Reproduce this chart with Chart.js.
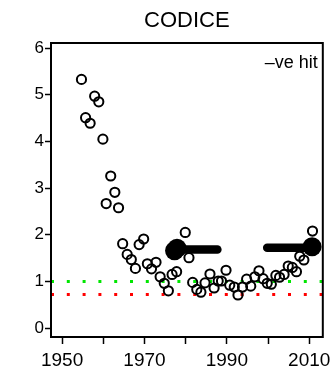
<!DOCTYPE html>
<html>
<head>
<meta charset="utf-8">
<script src="https://cdn.jsdelivr.net/npm/chart.js@4/dist/chart.umd.min.js"></script>
<style>
  html, body { margin: 0; padding: 0; background: #fff; }
  canvas { display: block; }
</style>
</head>
<body>
<canvas id="codiceChart" width="336" height="375"></canvas>
<script>
// yearly -ve hit ratios
var years = [1954.7, 1955.7, 1956.8, 1957.9, 1958.9, 1959.9, 1960.7, 1961.8, 1962.8, 1963.7,
  1964.7, 1965.8, 1966.8, 1967.8, 1968.7, 1969.8, 1970.7, 1971.7, 1972.8, 1973.8,
  1974.8, 1975.8, 1976.7, 1977.8, 1979.9, 1980.8, 1981.7, 1982.7, 1983.7, 1984.7,
  1985.9, 1986.9, 1987.9, 1988.7, 1989.8, 1990.7, 1991.8, 1992.7, 1993.8, 1994.8,
  1995.8, 1996.8, 1997.8, 1998.8, 1999.8, 2000.8, 2001.9, 2002.8, 2003.9, 2004.9,
  2005.9, 2006.9, 2007.7, 2008.7, 2010.8];
var hits = [5.33, 4.51, 4.39, 4.97, 4.85, 4.05, 2.67, 3.26, 2.91, 2.58,
  1.81, 1.58, 1.47, 1.28, 1.79, 1.91, 1.38, 1.27, 1.41, 1.10,
  0.96, 0.80, 1.15, 1.21, 2.05, 1.51, 0.98, 0.83, 0.77, 0.97,
  1.16, 0.86, 1.01, 1.01, 1.24, 0.92, 0.88, 0.71, 0.88, 1.05,
  0.90, 1.10, 1.23, 1.06, 0.96, 0.94, 1.13, 1.09, 1.15, 1.33,
  1.30, 1.21, 1.54, 1.46, 2.08];

// thick segments and their big dots
var seg1X = [1977.6, 1987.7];
var seg1Y = [1.685, 1.685];
var seg2X = [1999.8, 2010.7];
var seg2Y = [1.72, 1.72];
var blobX = [1977.3, 1977.9, 2010.7];
var blobY = [1.66, 1.71, 1.745];

// dotted reference levels
var greenLevel = 1.0;
var redLevel = 0.72;

var xTicks = [1950, 1960, 1970, 1980, 1990, 2000, 2010];
var xLabelled = [1950, 1970, 1990, 2010];
var yTicks = [0, 1, 2, 3, 4, 5, 6];
var xMin = 1947.3, xMax = 2013.3;
var yMin = -0.19, yMax = 6.11;

function pairs(xs, ys) {
  return xs.map(function (x, i) { return { x: x, y: ys[i] }; });
}

var ctx = document.getElementById("codiceChart").getContext("2d");

// title, corner note and the closed box round the plot
var boxPlugin = {
  id: "boxPlugin",
  afterDatasetsDraw: function (chart) {
    var c = chart.ctx, a = chart.chartArea;
    c.save();
    c.strokeStyle = "#000";
    c.lineWidth = 2;
    c.strokeRect(a.left, a.top, a.right - a.left, a.bottom - a.top);
    c.fillStyle = "#000";
    c.font = "22px 'Liberation Sans', Arial, sans-serif";
    c.textAlign = "center";
    c.textBaseline = "alphabetic";
    c.fillText("CODICE", (a.left + a.right) / 2, 27);
    c.font = "18px 'Liberation Sans', Arial, sans-serif";
    c.textAlign = "right";
    c.fillText("\u2013ve hit", a.right - 5, 68);
    c.restore();
  }
};

var codiceChart = new Chart(ctx, {
  type: "scatter",
  data: {
    datasets: [
      {
        label: "blobs",
        data: pairs(blobX, blobY),
        pointRadius: 9.5,
        pointBackgroundColor: "#000",
        pointBorderColor: "#000",
        pointBorderWidth: 0,
        order: 1
      },
      {
        label: "seg1",
        type: "line",
        data: pairs(seg1X, seg1Y),
        borderColor: "#000",
        borderWidth: 8.5,
        borderCapStyle: "round",
        pointRadius: 0,
        order: 2
      },
      {
        label: "seg2",
        type: "line",
        data: pairs(seg2X, seg2Y),
        borderColor: "#000",
        borderWidth: 8.5,
        borderCapStyle: "round",
        pointRadius: 0,
        order: 2
      },
      {
        label: "hits",
        data: pairs(years, hits),
        pointRadius: 4.6,
        pointBackgroundColor: "rgba(0,0,0,0)",
        pointBorderColor: "#000",
        pointBorderWidth: 2,
        order: 3
      },
      {
        label: "green",
        type: "line",
        data: [{ x: xMin, y: greenLevel }, { x: xMax, y: greenLevel }],
        borderColor: "#00e600",
        borderWidth: 3,
        borderDash: [3, 12.8],
        pointRadius: 0,
        order: 4
      },
      {
        label: "red",
        type: "line",
        data: [{ x: xMin, y: redLevel }, { x: xMax, y: redLevel }],
        borderColor: "#ff0000",
        borderWidth: 3,
        borderDash: [3, 12.8],
        pointRadius: 0,
        order: 4
      }
    ]
  },
  options: {
    responsive: false,
    animation: false,
    layout: { padding: { top: 43, right: 13, left: 0, bottom: 0 } },
    plugins: {
      legend: { display: false },
      tooltip: { enabled: false },
      title: { display: false }
    },
    scales: {
      x: {
        type: "linear",
        min: xMin,
        max: xMax,
        afterBuildTicks: function (scale) {
          scale.ticks = xTicks.map(function (v) { return { value: v }; });
        },
        afterFit: function (scale) { scale.height = 38; },
        ticks: {
          autoSkip: false,
          maxRotation: 0,
          padding: 5,
          color: "#000",
          font: { family: "'Liberation Sans', Arial, sans-serif", size: 19 },
          callback: function (v) { return xLabelled.indexOf(v) >= 0 ? String(v) : ""; }
        },
        grid: { drawOnChartArea: false, drawTicks: true, tickLength: 7, tickWidth: 1.5, color: "#000" },
        border: { display: true, color: "#000", width: 2 }
      },
      y: {
        type: "linear",
        min: yMin,
        max: yMax,
        afterBuildTicks: function (scale) {
          scale.ticks = yTicks.map(function (v) { return { value: v }; });
        },
        afterFit: function (scale) { scale.width = 51; },
        ticks: {
          padding: 1,
          color: "#000",
          font: { family: "'Liberation Sans', Arial, sans-serif", size: 17 },
          callback: function (v) { return String(v); }
        },
        grid: { drawOnChartArea: false, drawTicks: true, tickLength: 6, tickWidth: 1.5, color: "#000" },
        border: { display: true, color: "#000", width: 2 }
      }
    }
  },
  plugins: [boxPlugin]
});
</script>
</body>
</html>
